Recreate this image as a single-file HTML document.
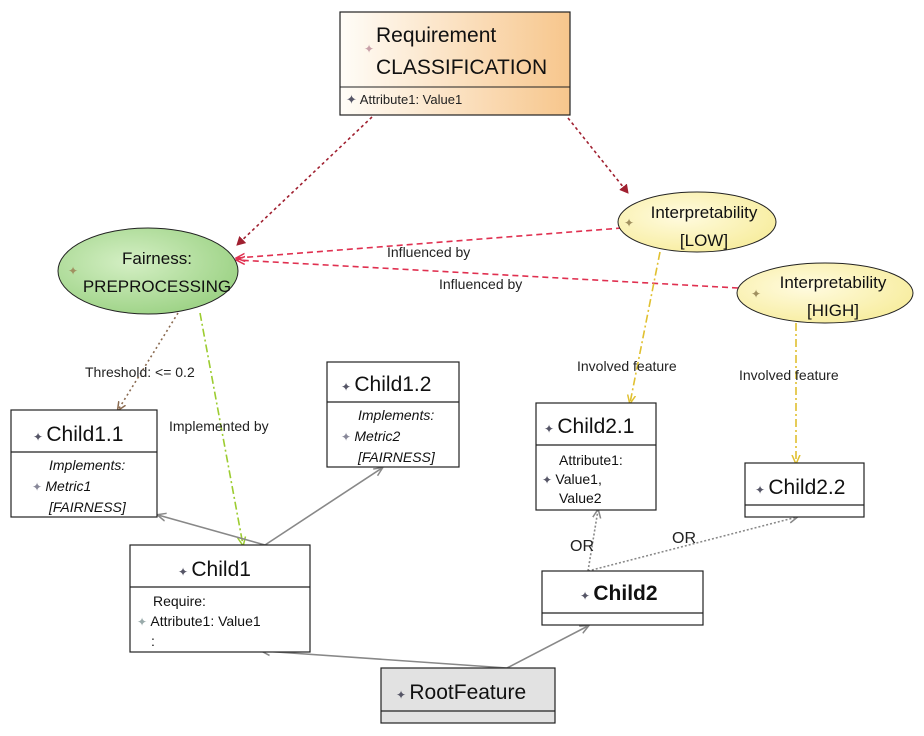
<!DOCTYPE html>
<html><head><meta charset="utf-8"><style>
html,body{margin:0;padding:0;background:#fff;}
svg{display:block;font-family:"Liberation Sans","DejaVu Sans",sans-serif;}
</style></head><body>
<svg width="924" height="736" viewBox="0 0 924 736" xmlns="http://www.w3.org/2000/svg">
<defs>
<linearGradient id="og" x1="0" x2="1" y1="0" y2="0"><stop offset="0" stop-color="#fffdf8"/><stop offset="1" stop-color="#f7c68c"/></linearGradient>
<radialGradient id="gg" cx="0.4" cy="0.4" r="0.7"><stop offset="0" stop-color="#d4efc4"/><stop offset="1" stop-color="#98d080"/></radialGradient>
<radialGradient id="yg" cx="0.4" cy="0.4" r="0.7"><stop offset="0" stop-color="#fffbe0"/><stop offset="1" stop-color="#f7ec9a"/></radialGradient>
<marker id="ar" markerWidth="10" markerHeight="10" refX="8" refY="5" orient="auto" markerUnits="userSpaceOnUse"><path d="M0,0 L9,5 L0,10 z" fill="#a02030"/></marker>
<marker id="ar2" markerWidth="10" markerHeight="10" refX="8" refY="5" orient="auto" markerUnits="userSpaceOnUse"><path d="M0,1 L9,5 L0,9" fill="none" stroke="#e03050" stroke-width="1.5"/></marker>
<marker id="ag" markerWidth="10" markerHeight="10" refX="8" refY="5" orient="auto" markerUnits="userSpaceOnUse"><path d="M0,1 L9,5 L0,9" fill="none" stroke="#888" stroke-width="1.5"/></marker>
<marker id="ab" markerWidth="10" markerHeight="10" refX="8" refY="5" orient="auto" markerUnits="userSpaceOnUse"><path d="M0,1 L9,5 L0,9" fill="none" stroke="#8a6a50" stroke-width="1.5"/></marker>
<marker id="agr" markerWidth="10" markerHeight="10" refX="8" refY="5" orient="auto" markerUnits="userSpaceOnUse"><path d="M0,1 L9,5 L0,9" fill="none" stroke="#9ccc30" stroke-width="1.5"/></marker>
<marker id="ay" markerWidth="10" markerHeight="10" refX="8" refY="5" orient="auto" markerUnits="userSpaceOnUse"><path d="M0,1 L9,5 L0,9" fill="none" stroke="#e0c030" stroke-width="1.5"/></marker>
</defs>

<!-- connectors -->
<g fill="none" stroke-width="1.6">
<line x1="372" y1="117" x2="237" y2="245" stroke="#a02030" stroke-dasharray="3,3" marker-end="url(#ar)"/>
<line x1="568" y1="118" x2="628" y2="193" stroke="#a02030" stroke-dasharray="3,3" marker-end="url(#ar)"/>
<line x1="622" y1="228" x2="237" y2="258" stroke="#e03050" stroke-dasharray="6,4" marker-end="url(#ar2)"/>
<line x1="738" y1="288" x2="237" y2="260" stroke="#e03050" stroke-dasharray="6,4" marker-end="url(#ar2)"/>
<line x1="178" y1="313" x2="118" y2="410" stroke="#8a6a50" stroke-dasharray="2,3" marker-end="url(#ab)"/>
<line x1="200" y1="313" x2="243" y2="545" stroke="#9ccc30" stroke-dasharray="8,3,2,3" marker-end="url(#agr)"/>
<line x1="660" y1="252" x2="630" y2="403" stroke="#e0c030" stroke-dasharray="8,3,2,3" marker-end="url(#ay)"/>
<line x1="796" y1="323" x2="796" y2="463" stroke="#e0c030" stroke-dasharray="8,3,2,3" marker-end="url(#ay)"/>
<line x1="265" y1="545" x2="158" y2="515" stroke="#888" marker-end="url(#ag)"/>
<line x1="265" y1="545" x2="382" y2="468" stroke="#888" marker-end="url(#ag)"/>
<line x1="507" y1="668" x2="262" y2="651" stroke="#888" marker-end="url(#ag)"/>
<line x1="507" y1="668" x2="588" y2="626" stroke="#888" marker-end="url(#ag)"/>
<line x1="588" y1="571" x2="598" y2="510" stroke="#888" stroke-dasharray="2,2" marker-end="url(#ag)"/>
<line x1="588" y1="571" x2="797" y2="517" stroke="#888" stroke-dasharray="2,2" marker-end="url(#ag)"/>
</g>
<g font-size="14" fill="#222">
<text x="387" y="257">Influenced by</text>
<text x="439" y="289">Influenced by</text>
<text x="85" y="377">Threshold: &lt;= 0.2</text>
<text x="169" y="431">Implemented by</text>
<text x="577" y="371">Involved feature</text>
<text x="739" y="380">Involved feature</text>
<text x="570" y="551" font-size="16">OR</text>
<text x="672" y="543" font-size="16">OR</text>
</g>

<!-- Requirement -->
<rect x="340" y="12" width="230" height="103" fill="url(#og)" stroke="#222" stroke-width="1.2"/>
<line x1="340" y1="87" x2="570" y2="87" stroke="#222"/>
<text x="364" y="53" font-size="12" fill="#c8a0a8">✦</text>
<text x="376" y="42" font-size="21" fill="#111">Requirement</text>
<text x="376" y="74" font-size="21" fill="#111">CLASSIFICATION</text>
<text x="346" y="104" font-size="13" fill="#222"><tspan fill="#556">✦</tspan> Attribute1: Value1</text>

<!-- ellipses -->
<ellipse cx="148" cy="271" rx="90" ry="43" fill="url(#gg)" stroke="#222"/>
<text x="68" y="275" font-size="12" fill="#a09060">✦</text>
<text x="157" y="264" font-size="17" text-anchor="middle" fill="#111">Fairness:</text>
<text x="157" y="292" font-size="17" text-anchor="middle" fill="#111">PREPROCESSING</text>
<ellipse cx="697" cy="222" rx="79" ry="30" fill="url(#yg)" stroke="#222"/>
<text x="624" y="227" font-size="12" fill="#a09060">✦</text>
<text x="704" y="218" font-size="17" text-anchor="middle" fill="#111">Interpretability</text>
<text x="704" y="246" font-size="17" text-anchor="middle" fill="#111">[LOW]</text>
<ellipse cx="825" cy="293" rx="88" ry="30" fill="url(#yg)" stroke="#222"/>
<text x="751" y="298" font-size="12" fill="#a09060">✦</text>
<text x="833" y="288" font-size="17" text-anchor="middle" fill="#111">Interpretability</text>
<text x="833" y="316" font-size="17" text-anchor="middle" fill="#111">[HIGH]</text>

<!-- boxes -->
<g stroke="#222" stroke-width="1.2" fill="#fff">
<rect x="11" y="410" width="146" height="107"/><line x1="11" y1="452" x2="157" y2="452"/>
<rect x="327" y="362" width="132" height="105"/><line x1="327" y1="402" x2="459" y2="402"/>
<rect x="130" y="545" width="180" height="107"/><line x1="130" y1="587" x2="310" y2="587"/>
<rect x="536" y="403" width="120" height="107"/><line x1="536" y1="445" x2="656" y2="445"/>
<rect x="745" y="463" width="119" height="54"/><line x1="745" y1="505" x2="864" y2="505"/>
<rect x="542" y="571" width="161" height="54"/><line x1="542" y1="613" x2="703" y2="613"/>
<rect x="381" y="668" width="174" height="55" fill="#e2e2e2"/><line x1="381" y1="711" x2="555" y2="711"/>
</g>
<g fill="#111">
<text x="33" y="441" font-size="21"><tspan font-size="12" fill="#556">✦ </tspan>Child1.1</text>
<text x="49" y="470" font-size="14" font-style="italic">Implements:</text>
<text x="32" y="491" font-size="14" font-style="italic"><tspan fill="#889" font-style="normal" font-size="12">✦ </tspan>Metric1</text>
<text x="49" y="512" font-size="14" font-style="italic">[FAIRNESS]</text>

<text x="341" y="391" font-size="21"><tspan font-size="12" fill="#556">✦ </tspan>Child1.2</text>
<text x="358" y="420" font-size="14" font-style="italic">Implements:</text>
<text x="341" y="441" font-size="14" font-style="italic"><tspan fill="#889" font-style="normal" font-size="12">✦ </tspan>Metric2</text>
<text x="358" y="462" font-size="14" font-style="italic">[FAIRNESS]</text>

<text x="178" y="576" font-size="21"><tspan font-size="12" fill="#556">✦ </tspan>Child1</text>
<text x="153" y="606" font-size="14">Require:</text>
<text x="137" y="626" font-size="14"><tspan fill="#9aa" font-size="12">✦ </tspan> Attribute1: Value1</text>
<text x="151" y="646" font-size="14">:</text>

<text x="544" y="433" font-size="21"><tspan font-size="12" fill="#556">✦ </tspan>Child2.1</text>
<text x="559" y="465" font-size="14">Attribute1:</text>
<text x="542" y="484" font-size="14"><tspan fill="#556" font-size="12">✦ </tspan>Value1,</text>
<text x="559" y="503" font-size="14">Value2</text>

<text x="755" y="494" font-size="21"><tspan font-size="12" fill="#556">✦ </tspan>Child2.2</text>
<text x="580" y="600" font-size="21" font-weight="bold"><tspan font-size="12" fill="#556" font-weight="normal">✦ </tspan>Child2</text>
<text x="396" y="699" font-size="21"><tspan font-size="12" fill="#556">✦ </tspan>RootFeature</text>
</g>
</svg>
</body></html>
